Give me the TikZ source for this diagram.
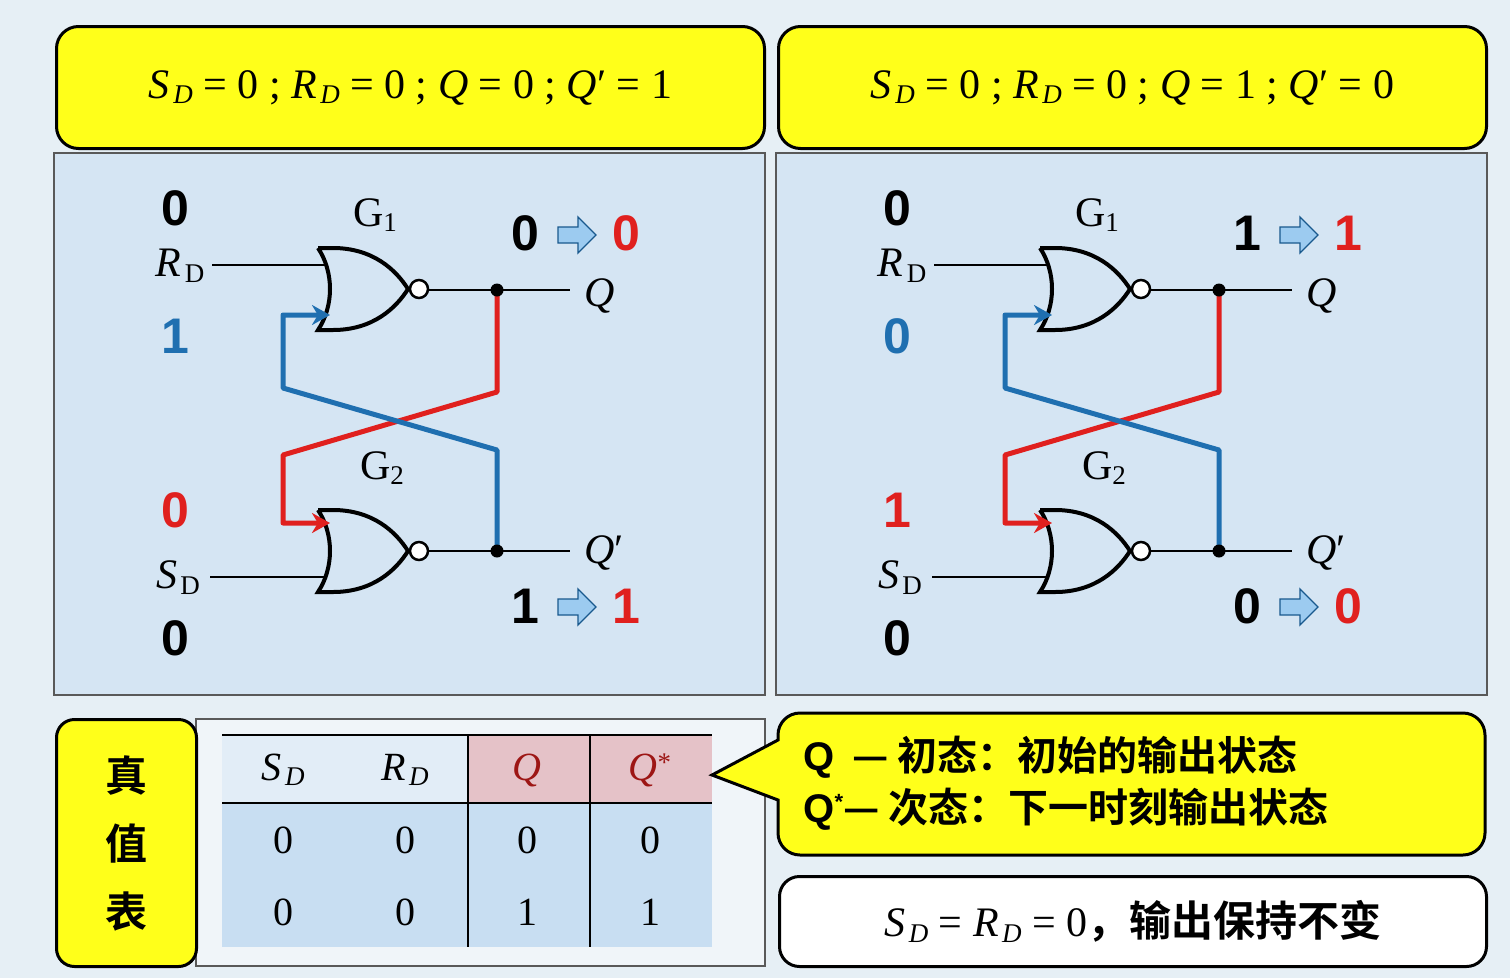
\documentclass[tikz,border=0pt]{standalone}
\usepackage{fontspec}
\setmainfont{Liberation Serif}
\setsansfont{Liberation Sans}
\newfontfamily\cjk{Noto Sans CJK SC}[BoldFont={* Bold}]
\usetikzlibrary{arrows.meta}
\newcommand\sbs[3][\itshape]{\textit{#2}\kern-0.08em\raisebox{-0.3ex}{\fontsize{27}{27}\selectfont#1 #3}}
\definecolor{bg}{HTML}{E6EFF5}
\definecolor{panel}{HTML}{D5E5F3}
\definecolor{yel}{HTML}{FFFF1A}
\definecolor{bl}{HTML}{1F6FB0}
\definecolor{rd}{HTML}{E0201E}
\definecolor{pink}{HTML}{E5C2C8}
\definecolor{cellb}{HTML}{C8DEF2}
\definecolor{harr}{HTML}{9CCBF0}
\tikzset{
  yelbox/.style={draw=black,line width=3pt,fill=yel,rounded corners=22pt},
  panelbox/.style={draw=gray!70!black,line width=1.5pt,fill=panel},
  wire/.style={line width=2.6pt},
  fb/.style={line width=5pt,line join=round},
  big/.style={font=\fontsize{50}{50}\selectfont\sffamily\bfseries},
  lab/.style={font=\fontsize{42}{42}\selectfont},
  tnum/.style={font=\fontsize{40}{40}\selectfont},
  cn/.style={font=\fontsize{40}{52}\selectfont\cjk\bfseries},
  pics/nor/.style={code={
    \draw[line width=4pt,fill=panel] (0,0) -- (15,0) .. controls (55,0) and (78,22) .. (90,41) .. controls (78,60) and (55,82) .. (15,82) -- (0,82) .. controls (16,58) and (16,24) .. (0,0);
    \draw[line width=2.5pt,fill=white] (101,41) circle (9);
  }},
  pics/harrow/.style={code={
    \draw[line width=1.3pt,draw=bl!80!black,fill=harr] (0,-8) -- (20,-8) -- (20,-18) -- (38,0) -- (20,18) -- (20,8) -- (0,8) -- cycle;
  }}
}
\begin{document}
\begin{tikzpicture}[x=1pt,y=-1pt]
\path[fill=bg] (0,0) rectangle (1510,978);
\useasboundingbox (0,0) rectangle (1510,978);
% headers
\node[yelbox,minimum width=708,minimum height=122,anchor=north west] (h1) at (55,25) {};
\node[lab] at (h1.center) {\sbs{S}{D} = 0 ; \sbs{R}{D} = 0 ; \textit{Q} = 0 ; \textit{Q}′ = 1};
\node[yelbox,minimum width=708,minimum height=122,anchor=north west] (h2) at (777,25) {};
\node[lab] at (h2.center) {\sbs{S}{D} = 0 ; \sbs{R}{D} = 0 ; \textit{Q} = 1 ; \textit{Q}′ = 0};
% panels
\node[panelbox,minimum width=711,minimum height=542,anchor=north west] (p1) at (53,152) {};
\node[panelbox,minimum width=711,minimum height=542,anchor=north west] (p2) at (775,152) {};
% circuits
\foreach \dx/\b/\c/\e/\f in {0/1/0/0/1, 722/0/1/1/0}{
\begin{scope}[xshift=\dx]
  \draw[wire] (212,265) -- (325,265);
  \draw[wire] (210,577) -- (325,577);
  \pic at (318,248) {nor};
  \pic at (318,510) {nor};
  \draw[wire] (429,290) -- (570,290);
  \draw[wire] (429,551) -- (570,551);
  \draw[fb,draw=rd,-{Stealth[length=18pt,width=20pt]}] (497,290) -- (497,392) -- (283,455) -- (283,523) -- (330,523);
  \draw[fb,draw=bl,-{Stealth[length=18pt,width=20pt]}] (497,551) -- (497,450) -- (283,388) -- (283,315) -- (330,315);
  \fill (497,290) circle (6.5); \fill (497,551) circle (6.5);
  \node[big] at (175,208) {0};
  \node[lab] at (180,266) {\sbs[\upshape]{R}{D}};
  \node[big,text=bl] at (175,336) {\b};
  \node[lab] at (375,215) {G\raisebox{-0.3ex}{\fontsize{27}{27}\selectfont 1}};
  \node[big] at (525,233) {\c};
  \pic at (558,235) {harrow};
  \node[big,text=rd] at (626,233) {\c};
  \node[lab] at (600,296) {\textit{Q}};
  \node[lab] at (382,468) {G\raisebox{-0.3ex}{\fontsize{27}{27}\selectfont 2}};
  \node[big,text=rd] at (175,510) {\e};
  \node[lab] at (178,578) {\sbs[\upshape]{S}{D}};
  \node[big] at (175,638) {0};
  \node[lab] at (604,553) {\textit{Q}′};
  \node[big] at (525,606) {\f};
  \pic at (558,607) {harrow};
  \node[big,text=rd] at (626,606) {\f};
\end{scope}}
% truth table
\node[panelbox,fill=bg!60!white,minimum width=569,minimum height=247,anchor=north west] (tp) at (195,718) {};
\node[yelbox,minimum width=140,minimum height=247,anchor=north west,rounded corners=18pt] (tt) at (55,718) {};
\node[cn,align=center,font=\fontsize{42}{42}\selectfont\cjk\bfseries] at (tt.center) {真\\[26pt]值\\[26pt]表};
\fill[panel!70!white] (222,735) rectangle (468,803);
\fill[pink] (468,735) rectangle (712,803);
\fill[cellb] (222,803) rectangle (712,947);
\draw[line width=2pt] (222,735) -- (712,735);
\draw[line width=2pt] (222,803) -- (712,803);
\draw[line width=1.2pt] (468,735) -- (468,947) (590,735) -- (590,947);
\node[tnum] at (283,770) {\sbs{S}{D}};
\node[tnum] at (405,770) {\sbs{R}{D}};
\node[tnum,text=rd!70!black] at (527,770) {\textit{Q}};
\node[tnum,text=rd!70!black] at (650,770) {\textit{Q}\raisebox{0.5ex}{\fontsize{27}{27}\selectfont*}};
\foreach \x/\u/\v in {283/0/0,405/0/0,527/0/1,650/0/1}{
  \node[tnum] at (\x,840) {\u};
  \node[tnum] at (\x,912) {\v};
}
% callout
\draw[yelbox] (778,740) [rounded corners=22pt] -- (778,713) -- (1485,713) -- (1485,855) -- (778,855) [sharp corners] -- (778,800) -- (712,775) -- cycle;
\node[cn,anchor=west,align=left] (cl) at (800,783) {{\sffamily Q\,}\;— 初态：初始的输出状态\\{\sffamily Q\raisebox{0.6ex}{\fontsize{22}{22}\selectfont*}}— 次态：下一时刻输出状态};
\node[draw=black,line width=3pt,fill=white,rounded corners=20pt,minimum width=707,minimum height=90,anchor=north west] (wb) at (778,875) {};
\node[lab] at (wb.center) {\sbs{S}{D} = \sbs{R}{D} = 0{\cjk\bfseries ，输出保持不变}};
\end{tikzpicture}
\end{document}
